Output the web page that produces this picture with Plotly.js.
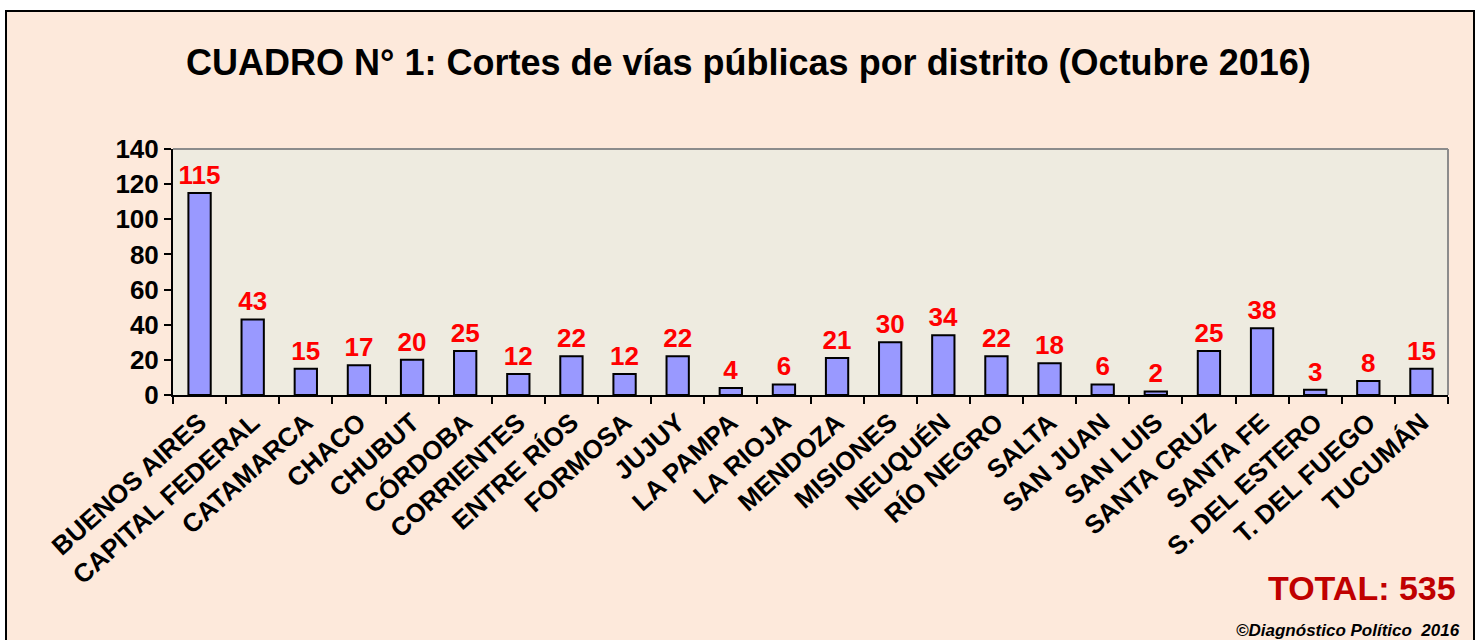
<!DOCTYPE html>
<html>
<head>
<meta charset="utf-8">
<script src="https://cdn.plot.ly/plotly-3.0.1.min.js"></script>
<style>
html,body{margin:0;padding:0;background:#fff;width:1482px;height:640px;overflow:hidden}
#frame{position:absolute;left:5px;top:10px;width:1470px;height:640px;border:2px solid #000;background:#FDE9DB;box-sizing:border-box}
#chart{position:absolute;left:0;top:0;width:1482px;height:640px}
</style>
</head>
<body>
<div id="frame"></div>
<div id="chart"></div>
<script>
const districts = ["BUENOS AIRES","CAPITAL FEDERAL","CATAMARCA","CHACO","CHUBUT","CÓRDOBA","CORRIENTES","ENTRE RÍOS","FORMOSA","JUJUY","LA PAMPA","LA RIOJA","MENDOZA","MISIONES","NEUQUÉN","RÍO NEGRO","SALTA","SAN JUAN","SAN LUIS","SANTA CRUZ","SANTA FE","S. DEL ESTERO","T. DEL FUEGO","TUCUMÁN"];
const cortes = [115,43,15,17,20,25,12,22,12,22,4,6,21,30,34,22,18,6,2,25,38,3,8,15];
const yTicks = [0,20,40,60,80,100,120,140];
const titleText = "CUADRO N° 1: Cortes de vías públicas por distrito (Octubre 2016)";
const totalText = "TOTAL: 535";
const creditText = "©Diagnóstico Político  2016";

const font = "Liberation Sans, Arial, sans-serif";

const trace = {
  type: "bar",
  x: districts,
  y: cortes,
  text: cortes.map(String),
  textposition: "outside",
  constraintext: "none",
  textfont: {family: font, size: 26, color: "#FF0000", weight: "bold"},
  cliponaxis: false,
  width: 0.42,
  marker: {color: "#9999FF", line: {color: "#000000", width: 2}},
  hoverinfo: "x+y"
};

const layout = {
  width: 1482, height: 640,
  margin: {l: 173, r: 34, t: 149, b: 245},
  paper_bgcolor: "rgba(0,0,0,0)",
  plot_bgcolor: "#EEEBE0",
  showlegend: false,
  font: {family: font, color: "#000"},
  title: {
    text: "<b>" + titleText + "</b>",
    font: {family: font, size: 36, color: "#000"},
    x: 0.505, xanchor: "center",
    y: 0.903, yanchor: "middle"
  },
  xaxis: {
    type: "category",
    tickangle: -42,
    ticks: "outside", tickson: "boundaries", ticklen: 7, tickwidth: 2, tickcolor: "#000",
    tickfont: {family: font, size: 26, color: "#000", weight: "bold"},
    showline: true, linecolor: "#000", linewidth: 2,
    showgrid: false, zeroline: false,
    range: [-0.5, districts.length - 0.5]
  },
  yaxis: {
    range: [0, 140],
    tickvals: yTicks,
    ticks: "outside", ticklen: 7, tickwidth: 2, tickcolor: "#000",
    tickfont: {family: font, size: 26, color: "#000", weight: "bold"},
    showline: true, linecolor: "#000", linewidth: 2,
    showgrid: false, zeroline: false
  },
  shapes: [
    {type: "line", xref: "paper", yref: "paper", x0: 0, x1: 1, y0: 1, y1: 1, line: {color: "#8C8C8C", width: 2}},
    {type: "line", xref: "paper", yref: "paper", x0: 1, x1: 1, y0: 0, y1: 1, line: {color: "#8C8C8C", width: 2}}
  ],
  annotations: [
    {text: "<b>" + totalText + "</b>", xref: "paper", yref: "paper", x: 1.0078, y: -0.7846,
     xanchor: "right", yanchor: "middle", showarrow: false,
     font: {family: font, size: 34, color: "#C00000"}},
    {text: "<b><i>" + creditText + "</i></b>", xref: "paper", yref: "paper", x: 1.011, y: -0.959,
     xanchor: "right", yanchor: "middle", showarrow: false,
     font: {family: font, size: 17, color: "#000"}}
  ]
};

Plotly.newPlot("chart", [trace], layout, {displayModeBar: false, staticPlot: true});
</script>
</body>
</html>
